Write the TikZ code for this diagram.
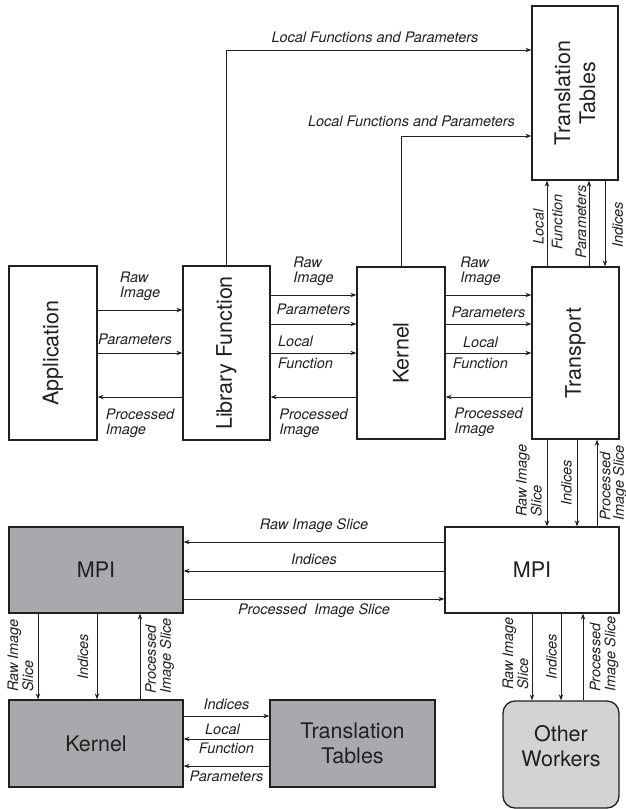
\documentclass[tikz,border=0pt]{standalone}
\usepackage{fontspec}
\setmainfont{TeX Gyre Heros}
\usetikzlibrary{calc, arrows.meta}

\definecolor{ink}{RGB}{35,31,32}
\definecolor{darkfill}{RGB}{167,169,172}
\definecolor{lightfill}{RGB}{209,211,212}

\tikzset{
  blk/.style={draw=ink, line width=1.3pt, inner sep=0pt, text=ink, align=center, font=\fontsize{21.5}{25}\selectfont},
  blktxt/.style={text=ink, inner sep=0pt, align=center, font=\fontsize{21.5}{25}\selectfont},
  arr/.style={draw=ink, line width=0.9pt, -{Stealth[length=6pt,width=4.5pt]}},
  lbl/.style={text=ink, inner sep=1pt, align=left, font=\fontsize{14.5}{15}\selectfont\itshape},
  vlbl/.style={lbl, rotate=90},
}

\begin{document}
\begin{tikzpicture}[x=1pt, y=-1pt]
\useasboundingbox (0,0) rectangle (626,809);

% upper row
\node[blk, minimum width=88pt, minimum height=174pt] (app) at (53,353) {};
\node[blktxt, rotate=90] at (app) {Application};
\node[blk, minimum width=87pt, minimum height=174pt] (libf) at (226.5,353) {};
\node[blktxt, rotate=90] at (libf) {Library Function};
\node[blk, minimum width=88pt, minimum height=172pt] (kern) at (401,353) {};
\node[blktxt, rotate=90] at (kern) {Kernel};
\node[blk, minimum width=87pt, minimum height=172pt] (trans) at (575.5,353) {};
\node[blktxt, rotate=90] at (trans) {Transport};
\node[blk, minimum width=86pt, minimum height=174pt] (ttab) at (575,93) {};
\node[blktxt, rotate=90] at (ttab) {Translation\\Tables};

% lower part
\node[blk, minimum width=174pt, minimum height=86pt] (mpiw) at (532,570) {MPI};
\node[blk, fill=darkfill, minimum width=174pt, minimum height=86pt] (mpil) at (96,570) {MPI};
\node[blk, fill=darkfill, minimum width=174pt, minimum height=87pt] (kernl) at (96,743.5) {Kernel};
\node[blk, fill=darkfill, minimum width=165pt, minimum height=87pt] (ttabl) at (352.5,743.5) {Translation\\Tables};
\node[blk, fill=lightfill, rounded corners=12pt, minimum width=116pt, minimum height=107pt] (others) at (561,754.5) {};
\node[blktxt] at ($(others)+(0,-8)$) {Other\\Workers};

% to the translation tables
\draw[arr] (libf.north) |- (ttab.west |- 0,50) node[lbl, above=6pt, pos=0.75, xshift=-4pt] {Local Functions and Parameters};
\draw[arr] (kern.north) |- (ttab.west |- 0,136) node[lbl, above=8pt, pos=0.54] {Local Functions and Parameters};

% application - library function
\draw[arr] (app.east |- 0,310) -- (libf.west |- 0,310) node[lbl, above=8pt, midway] {Raw\\Image};
\draw[arr] (app.east |- 0,353) -- (libf.west |- 0,353) node[lbl, above=7pt, midway, xshift=-5pt] {Parameters};
\draw[arr] (libf.west |- 0,397) -- (app.east |- 0,397) node[lbl, below=10pt, midway] {Processed\\Image};

% library function - kernel
\draw[arr] (libf.east |- 0,295) -- (kern.west |- 0,295) node[lbl, above=8pt, midway] {Raw\\Image};
\draw[arr] (libf.east |- 0,324) -- (kern.west |- 0,324) node[lbl, above=8pt, midway] {Parameters};
\draw[arr] (libf.east |- 0,353) -- (kern.west |- 0,353) node[lbl, above=5pt, midway, xshift=-18pt] {Local}
  node[lbl, below=3pt, midway, xshift=-8pt] {Function};
\draw[arr] (kern.west |- 0,397) -- (libf.east |- 0,397) node[lbl, below=10pt, midway] {Processed\\Image};

% kernel - transport
\draw[arr] (kern.east |- 0,295) -- (trans.west |- 0,295) node[lbl, above=8pt, midway, xshift=-8pt] {Raw\\Image};
\draw[arr] (kern.east |- 0,324) -- (trans.west |- 0,324) node[lbl, above=5pt, midway] {Parameters};
\draw[arr] (kern.east |- 0,353) -- (trans.west |- 0,353) node[lbl, above=4pt, midway, xshift=-8pt] {Local}
  node[lbl, below=3pt, midway, xshift=-8pt] {Function};
\draw[arr] (trans.west |- 0,397) -- (kern.east |- 0,397) node[lbl, below=9pt, midway] {Processed\\Image};

% transport - translation tables
\draw[arr] (trans.north -| 547,0) -- (ttab.south -| 547,0);
\draw[arr] (trans.north -| 589,0) -- (ttab.south -| 589,0);
\draw[arr] (ttab.south -| 605,0) -- (trans.north -| 605,0);
\node[vlbl, anchor=south] at (545,227) {Local};
\node[vlbl, anchor=north] at (550.5,222) {Function};
\node[vlbl, anchor=south] at (587.5,222) {Parameters};
\node[vlbl, anchor=north] at (611,225) {Indices};

% transport - mpi
\draw[arr] (trans.south -| 547,0) -- (mpiw.north -| 547,0);
\draw[arr] (trans.south -| 577,0) -- (mpiw.north -| 577,0);
\draw[arr] (mpiw.north -| 597,0) -- (trans.south -| 597,0);
\node[vlbl, anchor=south west] at (543,518) {Raw Image\\Slice};
\node[vlbl, anchor=south] at (573,483) {Indices};
\node[vlbl, anchor=north west, font=\fontsize{14.5}{13.5}\selectfont\itshape] at (598.5,522) {Processed\\Image Slice};

% mpi - mpi
\draw[arr] (mpiw.west |- 0,542) -- (mpil.east |- 0,542) node[lbl, above=8pt, midway] {Raw Image Slice};
\draw[arr] (mpiw.west |- 0,571) -- (mpil.east |- 0,571) node[lbl, above=5pt, midway] {Indices};
\draw[arr] (mpil.east |- 0,599) -- (mpiw.west |- 0,599) node[lbl, below=3pt, midway] {Processed\ \ Image Slice};

% mpi - other workers
\draw[arr] (mpiw.south -| 532,0) -- (others.north -| 532,0);
\draw[arr] (mpiw.south -| 561,0) -- (others.north -| 561,0);
\draw[arr] (others.north -| 583,0) -- (mpiw.south -| 583,0);
\node[vlbl, anchor=south west] at (529.5,691) {Raw Image\\Slice};
\node[vlbl, anchor=south] at (558,657) {Indices};
\node[vlbl, anchor=north west] at (588.5,693) {Processed\\Image Slice};

% mpi - kernel
\draw[arr] (mpil.south -| 38,0) -- (kernl.north -| 38,0);
\draw[arr] (mpil.south -| 97,0) -- (kernl.north -| 97,0);
\draw[arr] (kernl.north -| 140,0) -- (mpil.south -| 140,0);
\node[vlbl, anchor=south west] at (34.5,693) {Raw Image\\Slice};
\node[vlbl, anchor=south] at (89.5,657) {Indices};
\node[vlbl, anchor=north west] at (144,695) {Processed\\Image Slice};

% kernel - translation tables
\draw[arr] (kernl.east |- 0,716) -- (ttabl.west |- 0,716) node[lbl, above=5pt, midway] {Indices};
\draw[arr] (ttabl.west |- 0,739) -- (kernl.east |- 0,739) node[lbl, above=3pt, midway, xshift=-4pt] {Local}
  node[lbl, below=2pt, midway] {Function};
\draw[arr] (ttabl.west |- 0,766) -- (kernl.east |- 0,766) node[lbl, below=3pt, midway] {Parameters};
\end{tikzpicture}
\end{document}
